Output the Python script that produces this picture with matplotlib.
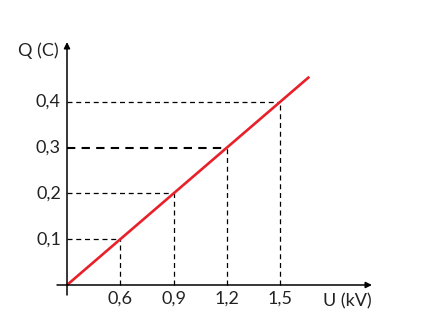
import matplotlib
matplotlib.use("Agg")
import matplotlib.pyplot as plt

plt.rcParams['font.family'] = ['Lato', 'DejaVu Sans']

u_ticks = [0.6, 0.9, 1.2, 1.5]
q_ticks = [0.1, 0.2, 0.3, 0.4]
u_labels = ["0,6", "0,9", "1,2", "1,5"]
q_labels = ["0,1", "0,2", "0,3", "0,4"]
# red line: starts at the drawn origin, passes through the marked points
line_u = [0.3, 0.6, 0.9, 1.2, 1.5, 1.665]
line_q = [0.0, 0.1, 0.2, 0.3, 0.4, 0.455]
u0 = 0.3  # x value where the vertical axis is drawn

fig = plt.figure(figsize=(4.3, 3.3), dpi=100)
ax = fig.add_axes([50 / 430, 30 / 330, 330 / 430, 265 / 330])
ax.set_xlim(0.2042, 2.0634)
ax.set_ylim(-0.0328, 0.5464)
ax.axis('off')

# axes with arrows
ax.annotate('', xy=(2.018, 0), xytext=(0.2437, 0),
            arrowprops=dict(arrowstyle='-|>', color='black', lw=1.1,
                            mutation_scale=9, shrinkA=0, shrinkB=0))
ax.annotate('', xy=(u0, 0.531), xytext=(u0, -0.0219),
            arrowprops=dict(arrowstyle='-|>', color='black', lw=1.1,
                            mutation_scale=9, shrinkA=0, shrinkB=0))

# dashed guides
for u, q in zip(u_ticks, q_ticks):
    lw = 1.5 if q == 0.3 else 0.9
    ax.plot([u0, u], [q, q], color='black', lw=lw, ls=(0, (4, 3)))
    ax.plot([u, u], [0, q], color='black', lw=0.9, ls=(0, (4, 3)))

ax.plot(line_u, line_q, color='#e8202a', lw=1.9, solid_capstyle='butt')

txt = dict(fontsize=13, color='#222222')
for u, lab in zip(u_ticks, u_labels):
    ax.text(u, -0.0305, lab, ha='center', va='center', **txt)
for q, lab in zip(q_ticks, q_labels):
    ax.text(u0 - 0.034, q, lab, ha='right', va='center', **txt)

ax.text(1.742, -0.0350, "U (kV)", ha='left', va='center', **txt)
ax.text(0.251, 0.511, "Q (C)", ha='right', va='center', **txt)

fig.savefig("out.png", dpi=100)
